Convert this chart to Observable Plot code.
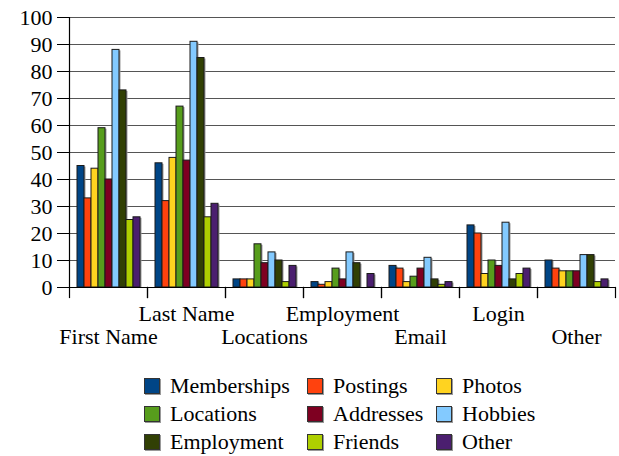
<!DOCTYPE html>
<html>
<head>
<meta charset="utf-8">
<script src="https://cdn.jsdelivr.net/npm/d3@7"></script>
<script src="https://cdn.jsdelivr.net/npm/@observablehq/plot@0.6"></script>
<style>
  body { margin: 0; background: white; font-family: "Liberation Serif", serif; }
  #chart { width: 619px; height: 456px; position: relative; overflow: hidden; }
  #legend { position: absolute; left: 144px; top: 372px; display: grid;
    grid-template-columns: 163px 129px 160px; grid-auto-rows: 28px; font-size: 22px; }
  .item { display: flex; align-items: center; white-space: nowrap; }
  .sw { width: 16px; height: 16px; border: 1px solid #333; margin-right: 10px; box-sizing: border-box; box-shadow: 1px 1px 0 #999; }
</style>
</head>
<body>
<div id="chart"></div>
<script>
const groups = ["First Name", "Last Name", "Locations", "Employment", "Email", "Login", "Other"];
const series = ["Memberships", "Postings", "Photos", "Locations", "Addresses", "Hobbies", "Employment", "Friends", "Other"];
const colors = ["#004586", "#ff420e", "#ffd320", "#579d1c", "#7e0021", "#83caff", "#314004", "#aecf00", "#4b1f6f"];
const yTicks = [0, 10, 20, 30, 40, 50, 60, 70, 80, 90, 100];

const firstName  = [45, 33, 44, 59, 40, 88, 73, 25, 26];
const lastName   = [46, 32, 48, 67, 47, 91, 85, 26, 31];
const locations  = [3, 3, 3, 16, 9, 13, 10, 2, 8];
const employment = [2, 1, 2, 7, 3, 13, 9, 0, 5];
const email      = [8, 7, 2, 4, 7, 11, 3, 1, 2];
const login      = [23, 20, 5, 10, 8, 24, 3, 5, 7];
const other      = [10, 7, 6, 6, 6, 12, 12, 2, 3];
const values = [firstName, lastName, locations, employment, email, login, other];

const data = groups.flatMap((g, i) => series.map((s, j) => ({group: g, series: s, value: values[i][j]})));

const plot = Plot.plot({
  width: 619, height: 365,
  marginTop: 17, marginBottom: 78, marginLeft: 68, marginRight: 3,
  style: {fontFamily: "Liberation Serif", fontSize: "22px", color: "#000", background: "white"},
  fx: {domain: groups, paddingInner: 0, paddingOuter: 0, axis: null, label: null},
  x: {domain: series, paddingInner: 0, paddingOuter: 0.45, axis: null, label: null},
  y: {domain: [0, 100], axis: null, label: null},
  color: {domain: series, range: colors},
  marks: [
    Plot.gridY(yTicks, {stroke: "#555", strokeOpacity: 1, strokeWidth: 1.2}),
    Plot.axisY(yTicks, {tickSize: 12, tickPadding: 5, fontSize: 22, stroke: "#000", label: null, fontFamily: "Liberation Serif"}),
    Plot.barY(data.filter(d => d.value > 0), {fx: "group", x: "series", y: "value", fill: "#9a9a9a", dx: 1.5, dy: 1}),
    Plot.barY(data, {fx: "group", x: "series", y: "value", fill: "series", stroke: "#1a1a1a", strokeWidth: 1}),
    Plot.ruleY([0], {stroke: "#000", strokeWidth: 1.2}),
    Plot.frame({anchor: "left", facetAnchor: "left", stroke: "#000", strokeWidth: 1.2}),
    Plot.frame({anchor: "left", insetTop: 270, insetBottom: -10, stroke: "#000", strokeWidth: 1.2}),
    Plot.frame({anchor: "right", insetTop: 270, insetBottom: -10, stroke: "#000", strokeWidth: 1.2}),
    Plot.text(groups.filter((_, i) => i % 2 === 0), {fx: d => d, text: d => d, frameAnchor: "bottom", dy: 56, fontSize: 22, fill: "#000"}),
    Plot.text(groups.filter((_, i) => i % 2 === 1), {fx: d => d, text: d => d, frameAnchor: "bottom", dy: 33, fontSize: 22, fill: "#000"})
  ]
});
const chart = document.getElementById("chart");
chart.appendChild(plot);

const legend = document.createElement("div");
legend.id = "legend";
series.forEach((s, i) => {
  const item = document.createElement("div");
  item.className = "item";
  const sw = document.createElement("span");
  sw.className = "sw";
  sw.style.background = colors[i];
  const t = document.createElement("span");
  t.textContent = s;
  item.appendChild(sw);
  item.appendChild(t);
  legend.appendChild(item);
});
chart.appendChild(legend);
</script>
</body>
</html>
